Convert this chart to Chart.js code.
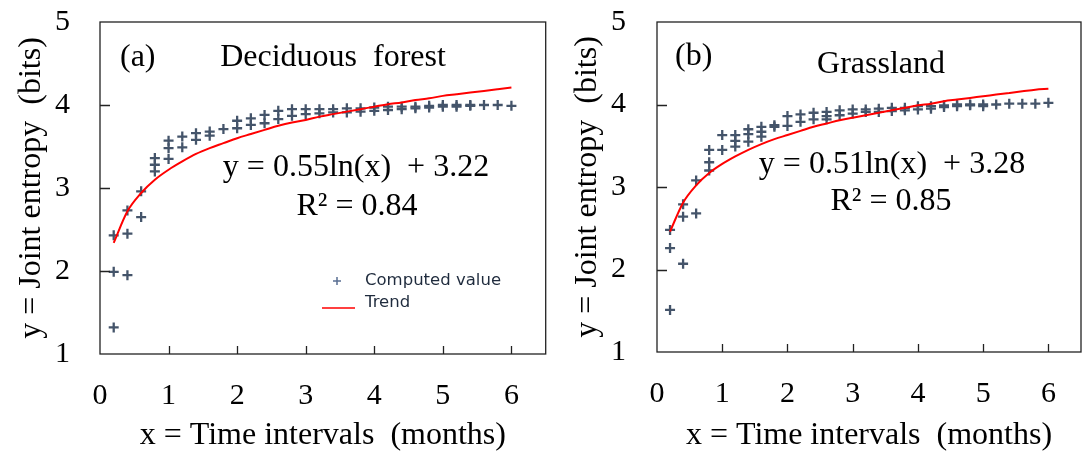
<!DOCTYPE html>
<html>
<head>
<meta charset="utf-8">
<script src="https://cdn.jsdelivr.net/npm/chart.js@4.4.0/dist/chart.umd.min.js"></script>
<style>
  body { margin: 0; background: #fff; }
  #wrap { position: relative; width: 1092px; height: 453px; }
  canvas { position: absolute; top: 0; }
  #chartA { left: 0; }
  #chartB { left: 546px; }
</style>
</head>
<body>
<div id="wrap">
  <canvas id="chartA" width="553" height="453"></canvas>
  <canvas id="chartB" width="546" height="453"></canvas>
</div>
<script>
// time intervals (months) shared by both panels
const timeIntervals = [0.2, 0.4, 0.6, 0.8, 1.0, 1.2, 1.4, 1.6, 1.8, 2.0,
  2.2, 2.4, 2.6, 2.8, 3.0, 3.2, 3.4, 3.6, 3.8, 4.0,
  4.2, 4.4, 4.6, 4.8, 5.0, 5.2, 5.4, 5.6, 5.8, 6.0];

// computed joint entropy values at each interval
const deciduousValues = [
  [2.43, 1.99, 1.32], [2.73, 2.45, 1.95], [2.96, 2.65], [3.36, 3.28, 3.20],
  [3.57, 3.48, 3.35], [3.62, 3.49], [3.66, 3.58], [3.68, 3.63], [3.71],
  [3.81, 3.72], [3.84, 3.76], [3.88, 3.78], [3.93, 3.83], [3.95, 3.87],
  [3.95, 3.89], [3.95, 3.90], [3.95, 3.91], [3.96, 3.91], [3.96, 3.92],
  [3.97, 3.93], [3.98, 3.94], [3.98, 3.95], [3.98, 3.96], [3.99, 3.97],
  [4.00, 3.98], [4.00, 3.98], [4.00, 3.99], [4.00], [4.00], [3.99]
];
const grasslandValues = [
  [2.48, 2.26, 1.51], [2.79, 2.64, 2.07], [3.08, 2.68], [3.45, 3.30, 3.20],
  [3.63, 3.45], [3.63, 3.56, 3.49], [3.70, 3.64, 3.55], [3.73, 3.67, 3.61],
  [3.75, 3.73], [3.86, 3.74], [3.88, 3.79], [3.90, 3.82], [3.91, 3.86, 3.82],
  [3.93, 3.87], [3.94, 3.89], [3.94, 3.91], [3.95, 3.91], [3.96, 3.92],
  [3.96, 3.93], [3.98, 3.94], [3.98, 3.95], [3.99, 3.97], [4.00, 3.98],
  [4.00, 3.99], [4.00, 3.98], [4.00], [4.01], [4.01], [4.01], [4.02]
];

// red trend curves
const deciduousTrend = [2.34, 2.72, 2.94, 3.10, 3.22, 3.32, 3.41, 3.48, 3.54, 3.60,
  3.65, 3.70, 3.75, 3.79, 3.82, 3.86, 3.89, 3.92, 3.95, 3.98,
  4.01, 4.03, 4.06, 4.08, 4.11, 4.13, 4.15, 4.17, 4.19, 4.21];
const grasslandTrend = [2.46, 2.81, 3.02, 3.17, 3.28, 3.37, 3.45, 3.52, 3.58, 3.63,
  3.68, 3.73, 3.77, 3.81, 3.84, 3.87, 3.90, 3.93, 3.96, 3.99,
  4.01, 4.04, 4.06, 4.08, 4.10, 4.12, 4.14, 4.16, 4.18, 4.19];

const xTicks = [0, 1, 2, 3, 4, 5, 6];
const yTicks = [1, 2, 3, 4, 5];

const SERIF = "'Liberation Serif', 'Times New Roman', serif";
const POINT_COLOR = '#44546a';

function toPoints(values) {
  const pts = [];
  timeIntervals.forEach((t, i) => values[i].forEach(v => pts.push({ x: t, y: v })));
  return pts;
}

// box frame + inward tick marks + free text
const framePlugin = {
  id: 'frame',
  afterDraw(chart, args, opts) {
    const { ctx, chartArea: a, scales: { x, y } } = chart;
    ctx.save();
    ctx.strokeStyle = '#222';
    ctx.lineWidth = 1.3;
    ctx.strokeRect(a.left, a.top, a.right - a.left, a.bottom - a.top);
    ctx.beginPath();
    xTicks.forEach(v => {
      if (v === 0) return;
      const px = Math.round(x.getPixelForValue(v)) + 0.5;
      ctx.moveTo(px, a.bottom);
      ctx.lineTo(px, a.bottom - 8);
    });
    yTicks.forEach(v => {
      if (v === 1 || v === 5) return;
      const py = Math.round(y.getPixelForValue(v)) + 0.5;
      ctx.moveTo(a.left, py);
      ctx.lineTo(a.left + 10, py);
    });
    ctx.stroke();

    ctx.textBaseline = 'middle';
    (opts.texts || []).forEach(t => {
      ctx.font = t.font;
      ctx.textAlign = t.align || 'center';
      ctx.fillStyle = '#000';
      ctx.fillText(t.text, t.x, t.y);
    });

    if (opts.legend) {
      const L = opts.legend;
      ctx.strokeStyle = '#5a6f92';
      ctx.lineWidth = 1.5;
      ctx.beginPath();
      ctx.moveTo(L.x - 4, L.y); ctx.lineTo(L.x + 4, L.y);
      ctx.moveTo(L.x, L.y - 4); ctx.lineTo(L.x, L.y + 4);
      ctx.stroke();
      ctx.strokeStyle = '#ff4040';
      ctx.lineWidth = 2;
      ctx.beginPath();
      ctx.moveTo(L.x - 15, L.y + 27); ctx.lineTo(L.x + 18, L.y + 27);
      ctx.stroke();
      ctx.font = "16.5px 'DejaVu Sans', sans-serif";
      ctx.textAlign = 'left';
      ctx.fillStyle = '#1f2b3d';
      ctx.fillText('Computed value', L.x + 28, L.y);
      ctx.fillText('Trend', L.x + 28, L.y + 22);
    }
    ctx.restore();
  }
};

function makeChart(id, values, trend, cfg) {
  const tickFont = { family: SERIF, size: 30 };
  const titleFont = { family: SERIF, size: 32, lineHeight: 1 };
  return new Chart(document.getElementById(id), {
    type: 'scatter',
    data: {
      datasets: [
        {
          label: 'Trend',
          data: timeIntervals.map((t, i) => ({ x: t, y: trend[i] })),
          showLine: true,
          borderColor: '#ff0000',
          borderWidth: 2,
          pointRadius: 0,
          cubicInterpolationMode: 'monotone',
          order: 0
        },
        {
          label: 'Computed value',
          data: toPoints(values),
          pointStyle: 'cross',
          pointRadius: 5,
          pointBorderWidth: 2.3,
          borderColor: POINT_COLOR,
          backgroundColor: POINT_COLOR,
          order: 1
        }
      ]
    },
    options: {
      responsive: false,
      devicePixelRatio: 1,
      animation: false,
      events: [],
      layout: { padding: { top: 22, right: cfg.right, left: 0, bottom: 0 } },
      plugins: {
        legend: { display: false },
        tooltip: { enabled: false },
        frame: { texts: cfg.texts, legend: cfg.legend }
      },
      scales: {
        x: {
          type: 'linear',
          min: 0,
          max: 6.5,
          afterBuildTicks: s => { s.ticks = xTicks.map(v => ({ value: v })); },
          afterFit: s => { s.height = cfg.xHeight; s.paddingLeft = 0; s.paddingRight = 0; },
          grid: { display: false, drawTicks: false },
          border: { display: false },
          ticks: { font: tickFont, color: '#000', padding: 24, maxRotation: 0, autoSkip: false },
          title: {
            display: true,
            text: 'x = Time intervals  (months)',
            font: titleFont,
            color: '#000',
            padding: { top: 0, bottom: 1 }
          }
        },
        y: {
          min: 1,
          max: 5,
          afterBuildTicks: s => { s.ticks = yTicks.map(v => ({ value: v })); },
          afterFit: s => { s.width = cfg.yWidth; s.paddingTop = 0; s.paddingBottom = 0; },
          grid: { display: false, drawTicks: false },
          border: { display: false },
          ticks: { font: tickFont, color: '#000', padding: cfg.yPad },
          title: {
            display: true,
            text: 'y = Joint entropy  (bits)',
            font: titleFont,
            color: '#000',
            padding: { top: cfg.yTitlePad, bottom: 0 }
          }
        }
      }
    },
    plugins: [framePlugin]
  });
}

const textFont = `32px ${SERIF}`;

makeChart('chartA', deciduousValues, deciduousTrend, {
  right: 0, xHeight: 99, yWidth: 100, yPad: 30, yTitlePad: 16,
  texts: [
    { text: '(a)', x: 120, y: 58, font: textFont, align: 'left' },
    { text: 'Deciduous  forest', x: 333, y: 58, font: textFont },
    { text: 'y = 0.55ln(x)  + 3.22', x: 356, y: 168, font: textFont },
    { text: 'R² = 0.84', x: 357, y: 207, font: textFont }
  ],
  legend: { x: 337, y: 281 }
});

makeChart('chartB', grasslandValues, grasslandTrend, {
  right: 11, xHeight: 101, yWidth: 111, yPad: 31, yTitlePad: 26,
  texts: [
    { text: '(b)', x: 129, y: 57, font: textFont, align: 'left' },
    { text: 'Grassland', x: 335, y: 65, font: textFont },
    { text: 'y = 0.51ln(x)  + 3.28', x: 346, y: 165, font: textFont },
    { text: 'R² = 0.85', x: 345, y: 202, font: textFont }
  ]
});
</script>
</body>
</html>
